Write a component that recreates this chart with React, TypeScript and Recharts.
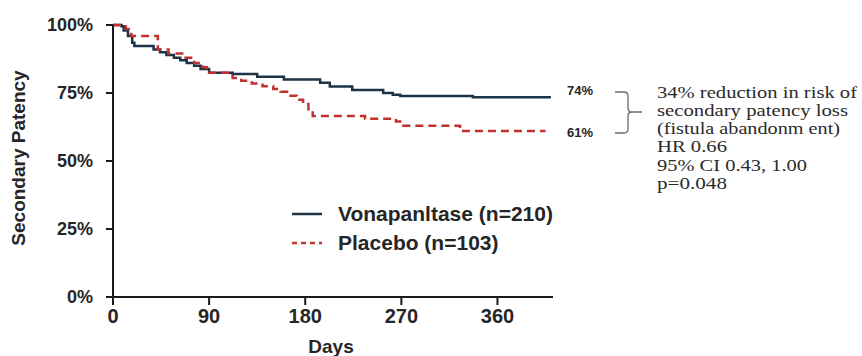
import React from 'react';
import { LineChart, Line, XAxis, YAxis } from 'recharts';

// Kaplan-Meier steps (days, % still patent)
const vonaDays = [0, 8, 10, 14, 18, 20, 38, 44, 50, 57, 63, 69, 76, 82, 90, 112, 135, 160, 194, 203, 224, 253, 262, 269, 337, 410];
const vonaPct = [100, 99.5, 98, 96, 93.5, 92.3, 91, 90, 89, 88, 87, 86, 85, 83.8, 82.4, 82, 81, 80, 78.8, 77.4, 76.1, 75, 74.4, 73.9, 73.4, 73.4];

const placeboDays = [0, 12, 17, 42, 52, 66, 76, 84, 88, 112, 120, 130, 140, 150, 157, 165, 172, 178, 183, 187, 236, 265, 272, 325, 405];
const placeboPct = [100, 98.5, 96, 91, 89.5, 88, 86, 84.5, 82.4, 80.5, 79.5, 78.5, 77.5, 76.5, 75.5, 74, 72.5, 71, 68.5, 66.5, 65.5, 64.5, 63, 61, 61];

const xTicks = [0, 90, 180, 270, 360];
const yTicks = [0, 25, 50, 75, 100];

const seriesNames = ['Vonapanltase (n=210)', 'Placebo (n=103)'];
const endLabels = ['74%', '61%'];
const noteLines = [
  '34% reduction in risk  of',
  'secondary patency loss',
  '(fistula abandonm ent)',
  'HR 0.66',
  '95% CI 0.43, 1.00',
  'p=0.048',
];
const noteWidths = [200, 191, 183, 70, 150, 70];

const vonaData = vonaDays.map((d, i) => ({ day: d, pct: vonaPct[i] }));
const placeboData = placeboDays.map((d, i) => ({ day: d, pct: placeboPct[i] }));

const NAVY = '#1d3447';
const RED = '#c3312e';
const INK = '#262626';
const SANS = 'Liberation Sans, Arial, sans-serif';

function LegendBox() {
  const rows = [
    { name: seriesNames[0], color: NAVY, dash: undefined },
    { name: seriesNames[1], color: RED, dash: '5 4' },
  ];
  return (
    <div style={{ position: 'absolute', left: 290, top: 199, fontFamily: SANS, fontWeight: 700, fontSize: 21, color: INK }}>
      {rows.map((r) => (
        <div key={r.name} style={{ display: 'flex', alignItems: 'center', height: 29 }}>
          <svg width={48} height={10} style={{ flexShrink: 0 }}>
            <line x1={2} y1={5} x2={32} y2={5} stroke={r.color} strokeWidth={2.5} strokeDasharray={r.dash} />
          </svg>
          <span style={{ whiteSpace: 'nowrap' }}>{r.name}</span>
        </div>
      ))}
    </div>
  );
}

export default function App() {
  return (
    <div style={{ position: 'absolute', left: 0, top: 0, width: 862, height: 356, background: '#fff' }}>
      <LineChart width={862} height={356} margin={{ top: 25, right: 309, bottom: 29, left: 53 }}>
        <XAxis
          type="number"
          dataKey="day"
          domain={[0, 412]}
          ticks={xTicks}
          allowDataOverflow
          stroke="#1a1a1a"
          strokeWidth={2}
          tickSize={8}
          tickMargin={4}
          height={30}
          tick={{ fill: INK, fontSize: 20, fontWeight: 700, fontFamily: SANS }}
        />
        <YAxis
          type="number"
          dataKey="pct"
          domain={[0, 100]}
          ticks={yTicks}
          width={60}
          stroke="#1a1a1a"
          strokeWidth={2}
          tickSize={7}
          tickMargin={13}
          tickFormatter={(v) => `${v}%`}
          tick={{ fill: INK, fontSize: 18, fontWeight: 700, fontFamily: SANS }}
        />
        <Line
          data={vonaData}
          dataKey="pct"
          name={seriesNames[0]}
          type="stepAfter"
          stroke={NAVY}
          strokeWidth={2.5}
          dot={false}
          isAnimationActive={false}
        />
        <Line
          data={placeboData}
          dataKey="pct"
          name={seriesNames[1]}
          type="stepAfter"
          stroke={RED}
          strokeWidth={2.5}
          strokeDasharray="8 5"
          dot={false}
          isAnimationActive={false}
        />
      </LineChart>
      <LegendBox />
      <svg width={862} height={356} style={{ position: 'absolute', left: 0, top: 0, pointerEvents: 'none' }}>
        <text
          x={18}
          y={158}
          transform="rotate(-90 18 158)"
          textAnchor="middle"
          dominantBaseline="central"
          fontFamily={SANS}
          fontWeight={700}
          fontSize={19}
          fill={INK}
        >
          Secondary Patency
        </text>
        <text x={331} y={346} textAnchor="middle" dominantBaseline="central" fontFamily={SANS} fontWeight={700} fontSize={19} fill={INK}>
          Days
        </text>
        <text x={567} y={90} dominantBaseline="central" fontFamily={SANS} fontWeight={700} fontSize={13} fill={INK}>
          {endLabels[0]}
        </text>
        <text x={567} y={132} dominantBaseline="central" fontFamily={SANS} fontWeight={700} fontSize={13} fill={INK}>
          {endLabels[1]}
        </text>
        <path
          d="M615 92 H624 Q628 92 628 96 V108 Q628 112 632 112 H642 M632 112 Q628 112 628 116 V129 Q628 133 624 133 H615"
          fill="none"
          stroke="#6b6b6b"
          strokeWidth={1.3}
        />
        {noteLines.map((t, i) => (
          <text
            key={t}
            x={657}
            y={92 + i * 18.3}
            dominantBaseline="central"
            fontFamily="Liberation Serif, Times New Roman, serif"
            fontSize={16}
            fill="#2b2b2b"
            textLength={noteWidths[i]}
            lengthAdjust="spacingAndGlyphs"
          >
            {t}
          </text>
        ))}
      </svg>
    </div>
  );
}
